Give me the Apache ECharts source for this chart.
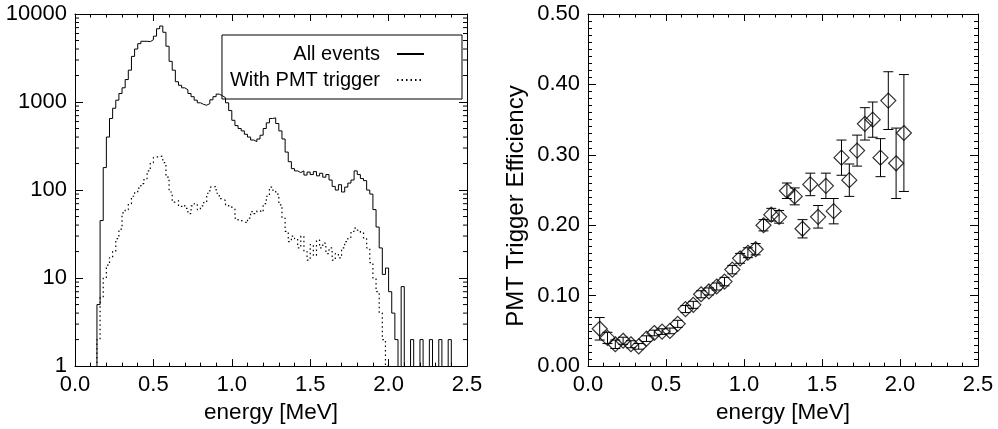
<!DOCTYPE html>
<html>
<head>
<meta charset="utf-8">
<script src="https://cdn.jsdelivr.net/npm/echarts@6/dist/echarts.min.js"></script>
<style>
  html, body { margin: 0; padding: 0; background: #fff; }
  #chart { width: 998px; height: 429px; }
</style>
</head>
<body>
<div id="chart"></div>
<script>
// energy histogram, 0.02 MeV bins starting at 0
const binWidth = 0.02
const allEvents = [
  0, 0, 0, 0, 0, 0, 0, 5, 45, 180,
  400, 650, 850, 1050, 1250, 1450, 1800, 2300, 3300, 4000,
  4600, 4900, 4900, 4850, 5100, 5600, 6800, 7300, 6200, 4300,
  2900, 2300, 1700, 1550, 1450, 1380, 1250, 1150, 1050, 980,
  940, 920, 960, 1060, 1150, 1230, 1180, 1120, 980, 800,
  620, 540, 500, 470, 430, 400, 370, 355, 380, 420,
  500, 580, 650, 660, 570, 470, 380, 270, 210, 175,
  165, 158, 165, 148, 160, 150, 162, 145, 155, 140,
  150, 130, 110, 100, 115, 95, 108, 120, 130, 165,
  150, 135, 128, 100, 90, 60, 38, 22, 11, 13,
  7, 4, 2, 0, 8, 0, 0, 2, 0, 0,
  2, 0, 0, 2, 0, 0, 2, 0, 0, 2,
  0, 0, 0, 0, 0
]
const pmtTrigger = [
  0, 0, 0, 0, 0, 0, 0, 2, 6, 10,
  14, 17, 20, 28, 36, 55, 60, 70, 85, 95,
  105, 118, 135, 165, 205, 235, 245, 240, 205, 140,
  95, 73, 76, 65, 68, 62, 54, 66, 70, 60,
  66, 72, 92, 108, 110, 92, 80, 76, 68, 64,
  62, 48, 45, 44, 42, 48, 57, 54, 58, 56,
  70, 85, 108, 100, 90, 68, 48, 34, 26, 30,
  28, 22, 30, 20, 16, 24, 18, 27, 22, 25,
  19, 22, 16, 19, 17, 22, 26, 29, 34, 37,
  35, 33, 28, 22, 15, 10, 7, 4, 2, 1,
  0, 0, 0, 0, 0, 0, 0, 0, 0, 0,
  0, 0, 0, 0, 0, 0, 0, 0, 0, 0,
  0, 0, 0, 0, 0
]

// trigger efficiency per 0.05 MeV
const effEnergy = [
  0.075, 0.125, 0.175, 0.225, 0.275, 0.325, 0.375, 0.425, 0.475, 0.525,
  0.575, 0.625, 0.675, 0.725, 0.775, 0.825, 0.875, 0.925, 0.975, 1.025,
  1.075, 1.125, 1.175, 1.225, 1.275, 1.325, 1.375, 1.425, 1.475, 1.525,
  1.575, 1.625, 1.675, 1.725, 1.775, 1.825, 1.875, 1.925, 1.975, 2.025
]
const effValue = [
  0.053, 0.040, 0.031, 0.036, 0.031, 0.028, 0.039, 0.047, 0.049, 0.050,
  0.060, 0.081, 0.087, 0.102, 0.106, 0.113, 0.120, 0.137, 0.153, 0.161,
  0.166, 0.200, 0.215, 0.212, 0.249, 0.241, 0.195, 0.258, 0.212, 0.256,
  0.220, 0.296, 0.264, 0.306, 0.344, 0.350, 0.296, 0.377, 0.288, 0.331
]
const effError = [
  0.016, 0.008, 0.006, 0.005, 0.005, 0.004, 0.004, 0.004, 0.004, 0.004,
  0.005, 0.005, 0.005, 0.005, 0.005, 0.005, 0.006, 0.006, 0.007, 0.007,
  0.008, 0.008, 0.009, 0.009, 0.011, 0.012, 0.013, 0.016, 0.016, 0.018,
  0.018, 0.025, 0.023, 0.022, 0.023, 0.025, 0.027, 0.041, 0.050, 0.083
]

const FONT = 'Liberation Sans'
const FS = 22

// step histogram points (left bin edges + closing edge); empty bins go below the axis
function histPoints(counts) {
  const pts = counts.map((c, i) => [i * binWidth, c > 0 ? c : 0.05])
  pts.push([counts.length * binWidth, pts[pts.length - 1][1]])
  return pts
}

// minor ticks for the log axis (2..9 in each decade)
const logMinor = []
;[1, 10, 100, 1000].forEach(d => {
  for (let m = 2; m <= 9; m++) logMinor.push([0, m * d])
})

const chart = echarts.init(document.getElementById('chart'))

const labelStyle = { color: '#000', fontFamily: FONT, fontSize: FS }
const nameStyle = { color: '#000', fontFamily: FONT, fontSize: 22.5 }
const lineAxis = { show: true, onZero: false, lineStyle: { color: '#000', width: 1 } }

function energyAxis(gridIndex, top) {
  return {
    type: 'value', gridIndex: gridIndex, position: top ? 'top' : 'bottom',
    min: 0, max: 2.5, interval: 0.5,
    axisLine: lineAxis,
    axisTick: { show: true, inside: true, length: 7, lineStyle: { color: '#000' } },
    minorTick: { show: true, splitNumber: 5, length: 3.5, lineStyle: { color: '#000' } },
    splitLine: { show: false },
    axisLabel: top ? { show: false } : Object.assign({ margin: 8, formatter: v => v.toFixed(1) }, labelStyle),
    name: top ? '' : 'energy [MeV]',
    nameLocation: 'middle', nameGap: 32,
    nameTextStyle: nameStyle
  }
}

const option = {
  animation: false,
  backgroundColor: '#fff',
  grid: [
    { left: 75, top: 14, width: 392, height: 353 },
    { left: 588, top: 14, width: 390, height: 353 }
  ],
  legend: {
    data: ['All events', 'With PMT trigger'],
    orient: 'vertical', align: 'right',
    right: 536, top: 35,
    padding: [9, 37, 9, 8],
    itemGap: 6, itemWidth: 27, itemHeight: 14,
    borderColor: '#000', borderWidth: 1,
    selectedMode: false,
    itemStyle: { opacity: 0 },
    textStyle: { color: '#000', fontFamily: FONT, fontSize: 20, padding: [0, 12, 0, 0] }
  },
  xAxis: [
    energyAxis(0, false),
    energyAxis(0, true),
    energyAxis(1, false),
    energyAxis(1, true)
  ],
  yAxis: [
    {
      type: 'log', gridIndex: 0, logBase: 10, min: 1, max: 10000,
      axisLine: lineAxis,
      axisTick: { show: true, inside: true, length: 8, lineStyle: { color: '#000' } },
      splitLine: { show: false },
      axisLabel: Object.assign({ margin: 8, formatter: v => String(Math.round(v)) }, labelStyle)
    },
    {
      type: 'log', gridIndex: 0, logBase: 10, min: 1, max: 10000, position: 'right',
      axisLine: lineAxis,
      axisTick: { show: true, inside: true, length: 8, lineStyle: { color: '#000' } },
      splitLine: { show: false },
      axisLabel: { show: false }
    },
    {
      type: 'value', gridIndex: 1, min: 0, max: 0.5, interval: 0.1,
      axisLine: lineAxis,
      axisTick: { show: true, inside: true, length: 8, lineStyle: { color: '#000' } },
      minorTick: { show: true, splitNumber: 10, length: 4, lineStyle: { color: '#000' } },
      splitLine: { show: false },
      axisLabel: Object.assign({ margin: 8, formatter: v => v.toFixed(2) }, labelStyle),
      name: 'PMT Trigger Efficiency',
      nameLocation: 'middle', nameGap: 60,
      nameTextStyle: { color: '#000', fontFamily: FONT, fontSize: 24, padding: [0, 32, 0, 0] }
    },
    {
      type: 'value', gridIndex: 1, min: 0, max: 0.5, interval: 0.1, position: 'right',
      axisLine: lineAxis,
      axisTick: { show: true, inside: true, length: 8, lineStyle: { color: '#000' } },
      minorTick: { show: true, splitNumber: 10, length: 4, lineStyle: { color: '#000' } },
      splitLine: { show: false },
      axisLabel: { show: false }
    }
  ],
  series: [
    {
      name: 'All events', type: 'line', step: 'end',
      xAxisIndex: 0, yAxisIndex: 0,
      data: histPoints(allEvents),
      symbol: 'none', clip: true,
      color: '#000',
      lineStyle: { color: '#000', width: 1 }
    },
    {
      name: 'With PMT trigger', type: 'line', step: 'end',
      xAxisIndex: 0, yAxisIndex: 0,
      data: histPoints(pmtTrigger),
      symbol: 'none', clip: true,
      color: '#000',
      lineStyle: { color: '#000', width: 1.2, type: [1.5, 3] }
    },
    {
      // log minor ticks on both sides of the left panel
      type: 'custom', xAxisIndex: 0, yAxisIndex: 0,
      data: logMinor, silent: true,
      renderItem: function (params, api) {
        const l = api.coord([0, api.value(1)])
        const r = api.coord([2.5, api.value(1)])
        const st = { stroke: '#000', lineWidth: 1 }
        return {
          type: 'group',
          children: [
            { type: 'line', shape: { x1: l[0], y1: l[1], x2: l[0] + 4, y2: l[1] }, style: st },
            { type: 'line', shape: { x1: r[0], y1: r[1], x2: r[0] - 4, y2: r[1] }, style: st }
          ]
        }
      }
    },
    {
      // error bars
      type: 'custom', xAxisIndex: 2, yAxisIndex: 2,
      data: effEnergy.map((e, i) => [e, effValue[i], effError[i]]),
      silent: true,
      renderItem: function (params, api) {
        const e = api.value(0), v = api.value(1), err = api.value(2)
        const hi = api.coord([e, v + err])
        const lo = api.coord([e, v - err])
        const st = { stroke: '#000', lineWidth: 1 }
        return {
          type: 'group',
          children: [
            { type: 'line', shape: { x1: hi[0], y1: hi[1], x2: lo[0], y2: lo[1] }, style: st },
            { type: 'line', shape: { x1: hi[0] - 5, y1: hi[1], x2: hi[0] + 5, y2: hi[1] }, style: st },
            { type: 'line', shape: { x1: lo[0] - 5, y1: lo[1], x2: lo[0] + 5, y2: lo[1] }, style: st }
          ]
        }
      }
    },
    {
      type: 'scatter', xAxisIndex: 2, yAxisIndex: 2,
      data: effEnergy.map((e, i) => [e, effValue[i]]),
      symbol: 'diamond', symbolSize: 15,
      itemStyle: { color: 'rgba(0,0,0,0)', borderColor: '#000', borderWidth: 1.2 }
    }
  ]
}

chart.setOption(option)
</script>
</body>
</html>
